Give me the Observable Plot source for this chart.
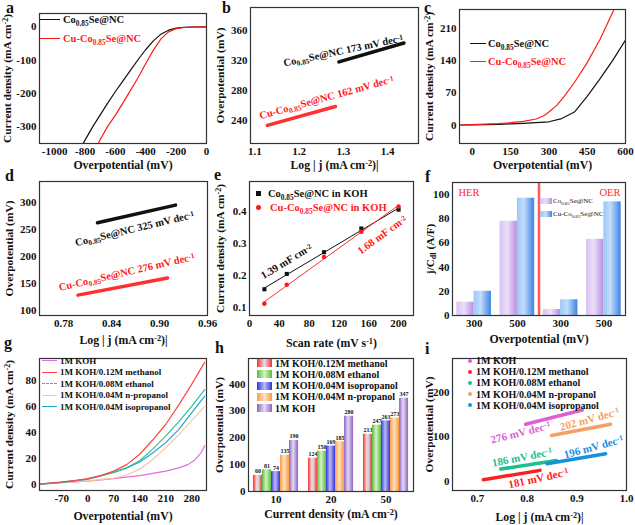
<!DOCTYPE html>
<html><head><meta charset="utf-8">
<script src="https://cdn.jsdelivr.net/npm/d3@7"></script>
<script src="https://cdn.jsdelivr.net/npm/@observablehq/plot@0.6"></script>
<style>
body{margin:0;background:#fff;}
#fig{position:relative;width:635px;height:525px;overflow:hidden;font-family:"Liberation Serif","Times New Roman",serif;color:#111;}
#fig svg{overflow:visible;}
.letter{position:absolute;font-size:16px;font-weight:bold;line-height:1;}
.leg{position:absolute;white-space:nowrap;font-weight:bold;}
.leg .row{display:flex;align-items:center;}
.leg sub,.leg sup{font-size:70%;line-height:0;}
</style></head><body><div id="fig"></div>
<script>
// ---------- data ----------
// a: HER polarization
const aXTicks = [-1000,-800,-600,-400,-200,0];
const aYTicks = [0,-100,-200,-300];
const aCo = [[0,0],[-100,-0.5],[-150,-1.5],[-200,-4],[-250,-10],[-300,-22],[-350,-42],[-400,-68],[-450,-98],[-500,-130],[-550,-162],[-600,-194],[-650,-228],[-700,-264],[-750,-300],[-800,-340],[-815,-352]];
const aCu = [[0,0],[-100,-0.8],[-150,-2],[-200,-5.5],[-250,-15],[-300,-36],[-350,-70],[-400,-110],[-450,-152],[-500,-190],[-550,-228],[-600,-265],[-650,-298],[-700,-338],[-720,-356]];
// b: HER Tafel
const bXTicks = [1.1,1.2,1.3,1.4];
const bYTicks = [240,280,320,360];
const bCo = [[1.29,318],[1.437,343]];
const bCu = [[1.128,234],[1.282,259]];
const bNotes = [
  {x:1.300,y:333,t:"Co_{0.85}Se@NC 173 mV dec^{-1}",c:"#111",r:-12},
  {x:1.262,y:271,t:"Cu-Co_{0.85}Se@NC 162 mV dec^{-1}",c:"#ff1a1a",r:-15.5}
];
// c: OER polarization
const cXTicks = [0,150,300,450,600];
const cYTicks = [0,70,140,210];
const cCo = [[-50,0],[0,0.5],[50,1],[100,1.5],[150,2.5],[200,3.5],[250,5],[300,7],[350,14],[400,28],[450,62],[500,100],[550,140],[600,184]];
const cCu = [[-50,0],[0,1],[50,2],[100,3],[150,5],[200,8],[250,13],[280,20],[300,28],[330,42],[360,62],[400,92],[450,135],[500,185],[555,250]];
// d: OER Tafel
const dXTicks = [0.78,0.84,0.90,0.96];
const dYTicks = [100,150,200,250,300];
const dCo = [[0.8225,263],[0.92,296]];
const dCu = [[0.798,128],[0.91,160]];
const dNotes = [
  {x:0.869,y:252,t:"Co_{0.85}Se@NC 325 mV dec^{-1}",c:"#111",r:-13.5},
  {x:0.859,y:171,t:"Cu-Co_{0.85}Se@NC 276 mV dec^{-1}",c:"#ff1a1a",r:-13}
];
// e: Cdl
const eXTicks = [0,40,80,120,160,200];
const eYTicks = [0.1,0.2,0.3,0.4];
const eScan = [20,50,100,150,200];
const eCo = [0.157,0.205,0.273,0.347,0.406];
const eCu = [0.112,0.171,0.258,0.337,0.416];
const eNotes = [
  {x:49.6,y:0.244,t:"1.39 mF cm^{-2}",c:"#111",r:-31},
  {x:178,y:0.327,t:"1.68 mF cm^{-2}",c:"#ff1a1a",r:-36}
];
// f: j/Cdl
const fGroups = ["HER-300","HER-500","OER-300","OER-500"];
const fYTicks = [0,20,40,60,80,100];
const fCo = [11,78,5,63];
const fCu = [20,97,13,94];
// g: alcohol LSV
const gXTicks = [-70,0,70,140,210,280];
const gYTicks = [0,20,40,60,80];
const gKOH = [[-130,0],[-70,1],[0,2.3],[70,4.2],[140,6.5],[210,10],[245,12.5],[270,15],[290,19],[305,24],[315,29.5]];
const gMethanol = [[-130,0],[-100,0.8],[-70,1.6],[-35,2.6],[0,4.2],[35,6.5],[70,10],[105,15],[140,23],[175,34],[210,46],[245,61],[280,77],[315,94]];
const gEthanol = [[-130,0],[-70,1.3],[0,3.8],[70,9],[105,12.5],[140,18],[175,27],[210,37],[245,48],[280,60],[315,73]];
const gNpropanol = [[-130,0],[-70,1],[0,2.5],[70,4.5],[105,7],[140,11.5],[175,19],[210,28],[245,38],[280,49],[315,60]];
const gIsopropanol = [[-130,0],[-70,1.3],[0,3.8],[70,9],[105,12.5],[140,17],[175,24],[210,32],[245,42],[280,55],[315,68]];
// h: overpotential bars
const hDensity = ["10","20","50"];
const hYTicks = [0,100,200,300,400];
const hMethanol = [60,124,213];
const hEthanol = [81,150,247];
const hIsopropanol = [74,169,263];
const hNpropanol = [135,185,273];
const hKOH = [190,280,347];
// i: alcohol Tafel
const iXTicks = [0.7,0.8,0.9,1.0];
const iYTicks = [0,100,200];
const iKOH = [[0.797,128],[0.911,160]];
const iMethanol = [[0.712,4],[0.826,25]];
const iEthanol = [[0.747,28],[0.859,47]];
const iNpropanol = [[0.849,103],[0.968,128]];
const iIsopropanol = [[0.84,40],[0.958,62]];
const iNotes = [
  {x:0.787,y:109,t:"276 mV dec^{-1}",k:"koh",r:-14},
  {x:0.926,y:139,t:"202 mV dec^{-1}",k:"npr",r:-15},
  {x:0.790,y:54,t:"186 mV dec^{-1}",k:"eth",r:-11},
  {x:0.934,y:77,t:"196 mV dec^{-1}",k:"iso",r:-15},
  {x:0.823,y:7,t:"181 mV dec^{-1}",k:"met",r:-12}
];

// ---------- helpers ----------
const FONT = '"Liberation Serif","Times New Roman",serif';
const fig = document.getElementById("fig");
const NS = "http://www.w3.org/2000/svg";
const RED = "#ff1a1a";
const hy = d => String(d);

function richNode(t){
  const s = t.textContent;
  if (!/[_^]\{/.test(s)) return;
  t.textContent = "";
  const re = /([_^])\{([^}]*)\}/g; let last = 0, m;
  const add = (txt, kind) => {
    const ts = document.createElementNS(NS,"tspan");
    ts.textContent = txt;
    if (kind) { ts.setAttribute("baseline-shift", kind === "_" ? "-25%" : "35%"); ts.style.fontSize = "70%"; }
    t.appendChild(ts);
  };
  while ((m = re.exec(s))) { if (m.index > last) add(s.slice(last, m.index)); add(m[2], m[1]); last = re.lastIndex; }
  if (last < s.length) add(s.slice(last));
}
function rich(svg){
  svg.querySelectorAll("text").forEach(t => {
    const ts = t.querySelectorAll("tspan");
    if (ts.length) ts.forEach(richNode); else richNode(t);
  });
}
function addDefs(svg, grads){
  const defs = document.createElementNS(NS,"defs");
  for (const [id, stops] of Object.entries(grads)) {
    const lg = document.createElementNS(NS,"linearGradient");
    lg.setAttribute("id", id); lg.setAttribute("x1","0"); lg.setAttribute("x2","1"); lg.setAttribute("y1","0"); lg.setAttribute("y2","0");
    stops.forEach(([o,c]) => { const s = document.createElementNS(NS,"stop"); s.setAttribute("offset", o); s.setAttribute("stop-color", c); lg.appendChild(s); });
    defs.appendChild(lg);
  }
  svg.insertBefore(defs, svg.firstChild);
}
function mk(o){
  const p = Plot.plot({
    width:o.w, height:o.h, marginLeft:o.ml, marginRight:o.mr, marginTop:o.mt, marginBottom:o.mb,
    style:{fontFamily:FONT, fontSize:"11px", fontWeight:"bold", background:"transparent", color:"#111", overflow:"visible"},
    x:Object.assign({tickSize:0, tickPadding:4, labelAnchor:"center", labelArrow:"none"}, o.x),
    y:Object.assign({tickSize:0, tickPadding:3, labelAnchor:"center", labelArrow:"none"}, o.y),
    marks:[...o.marks, Plot.frame({stroke:"#333", strokeWidth:1.2})]
  });
  if (o.defs) addDefs(p, o.defs);
  p.querySelectorAll('[aria-label="x-axis label"]').forEach(g => { g.style.fontSize = "11.8px"; });
  p.querySelectorAll('[aria-label="y-axis label"]').forEach(g => { g.style.fontSize = "11.4px"; });
  rich(p);
  p.style.position = "absolute"; p.style.left = o.left + "px"; p.style.top = o.top + "px";
  fig.appendChild(p);
  return p;
}
function notes(arr, size, colorOf){
  return Plot.text(arr, {x:"x", y:"y", text:"t", rotate:d => d.r, fill:colorOf || (d => d.c), fontSize:size, fontWeight:"bold"});
}
function letter(ch, left, top){
  const d = document.createElement("div"); d.className = "letter"; d.textContent = ch;
  d.style.left = left + "px"; d.style.top = top + "px"; fig.appendChild(d);
}
function legend(left, top, rowH, fontSize, rows, weight){
  const div = document.createElement("div"); div.className = "leg";
  div.style.cssText += `left:${left}px;top:${top}px;font-size:${fontSize}px;font-weight:${weight||"bold"};`;
  rows.forEach(r => {
    const row = document.createElement("div"); row.className = "row"; row.style.height = rowH + "px";
    const sw = document.createElement("span");
    if (r.kind === "line") sw.style.cssText = `display:inline-block;width:${r.w}px;height:0;border-top:${r.lw||1.5}px ${r.dash?"dashed":"solid"} ${r.color};margin-right:${r.gap}px;`;
    else if (r.kind === "rect") sw.style.cssText = `display:inline-block;width:${r.w}px;height:${r.h}px;background:${r.color};margin-right:${r.gap}px;`;
    else if (r.kind === "square") sw.style.cssText = `display:inline-block;width:${r.w}px;height:${r.w}px;background:${r.color};margin-left:${r.pad||0}px;margin-right:${r.gap}px;`;
    else if (r.kind === "dot") sw.style.cssText = `display:inline-block;width:${r.w}px;height:${r.w}px;border-radius:50%;background:${r.color};margin-left:${r.pad||0}px;margin-right:${r.gap}px;`;
    const tx = document.createElement("span"); tx.innerHTML = r.label; tx.style.color = r.textColor || "#111";
    row.appendChild(sw); row.appendChild(tx); div.appendChild(row);
  });
  fig.appendChild(div);
}

// ---------- panel a ----------
mk({left:0, top:0, w:212, h:172, ml:39, mr:6, mt:13, mb:29,
  x:{domain:[-1100,0], ticks:aXTicks, tickFormat:hy, label:"Overpotential (mV)", labelOffset:25},
  y:{domain:[-350,40], ticks:aYTicks, tickFormat:hy, label:"Current density (mA cm^{-2})", labelOffset:37},
  marks:[
    Plot.line(aCo, {stroke:"#111", strokeWidth:1.2, clip:true}),
    Plot.line(aCu, {stroke:RED, strokeWidth:1.2, clip:true})
  ]});
legend(40, 9.5, 19, 10.5, [
  {kind:"line", w:20, gap:3, color:"#111", label:"Co<sub>0.85</sub>Se@NC"},
  {kind:"line", w:20, gap:3, color:RED, label:"Cu-Co<sub>0.85</sub>Se@NC", textColor:RED}
]);

// ---------- panel b ----------
mk({left:211, top:0, w:212, h:172, ml:39, mr:5, mt:7, mb:29,
  x:{domain:[1.09,1.47], ticks:bXTicks, tickFormat:".1f", label:"Log | j (mA cm^{-2})|", labelOffset:25},
  y:{domain:[210,390], ticks:bYTicks, label:"Overpotential (mV)", labelOffset:35},
  marks:[
    Plot.line(bCo, {stroke:"#111", strokeWidth:3.5}),
    Plot.line(bCu, {stroke:"#ff3030", strokeWidth:3.5}),
    notes(bNotes, 10.5)
  ]});

// ---------- panel c ----------
mk({left:421, top:0, w:214, h:172, ml:38, mr:10, mt:9, mb:29,
  x:{domain:[-50,600], ticks:cXTicks, label:"Overpotential (mV)", labelOffset:25},
  y:{domain:[-40,250], ticks:cYTicks, label:"Current density (mA cm^{-2})", labelOffset:35},
  marks:[
    Plot.line(cCo, {stroke:"#111", strokeWidth:1.2, clip:true}),
    Plot.line(cCu, {stroke:RED, strokeWidth:1.2, clip:true})
  ]});
legend(470, 34, 18, 10.5, [
  {kind:"line", w:16, gap:2, color:"#111", label:"Co<sub>0.85</sub>Se@NC"},
  {kind:"line", w:16, gap:2, color:RED, label:"Cu-Co<sub>0.85</sub>Se@NC", textColor:RED}
]);

// ---------- panel d ----------
mk({left:0, top:170, w:212, h:180, ml:39, mr:5, mt:11, mb:35,
  x:{domain:[0.75,0.96], ticks:dXTicks, tickFormat:".2f", label:"Log | j (mA cm^{-2})|", labelOffset:28},
  y:{domain:[90,340], ticks:dYTicks, label:"Overpotential (mV)", labelOffset:35},
  marks:[
    Plot.line(dCo, {stroke:"#111", strokeWidth:3.5}),
    Plot.line(dCu, {stroke:"#ff3030", strokeWidth:3.5}),
    notes(dNotes, 10.5)
  ]});

// ---------- panel e ----------
const eRows = eScan.flatMap((s,i) => [{s, v:eCo[i], k:"co"}, {s, v:eCu[i], k:"cu"}]);
mk({left:211, top:170, w:212, h:180, ml:38, mr:10, mt:11, mb:35,
  x:{domain:[0,220], ticks:eXTicks, label:"Scan rate (mV s^{-1})", labelOffset:31},
  y:{domain:[0.075,0.494], ticks:eYTicks, tickFormat:".1f", label:"Current density (mA cm^{-2})", labelOffset:34},
  marks:[
    Plot.linearRegressionY(eRows.filter(d=>d.k==="co"), {x:"s", y:"v", stroke:"#111", strokeWidth:1, ci:0}),
    Plot.linearRegressionY(eRows.filter(d=>d.k==="cu"), {x:"s", y:"v", stroke:"#ff3030", strokeWidth:1, ci:0}),
    Plot.dot(eRows.filter(d=>d.k==="co"), {x:"s", y:"v", symbol:"square", r:2.3, fill:"#111"}),
    Plot.dot(eRows.filter(d=>d.k==="cu"), {x:"s", y:"v", r:2.3, fill:RED}),
    notes(eNotes, 10.5)
  ]});
legend(256, 186, 14, 10.5, [
  {kind:"square", w:5, gap:7, color:"#111", label:"Co<sub>0.85</sub>Se@NC in KOH"},
  {kind:"dot", w:5, gap:9, color:RED, label:"Cu-Co<sub>0.85</sub>Se@NC in KOH", textColor:RED}
]);

// ---------- panel f ----------
const fBand = (214-31-10) / (4 - 0.2 + 0.2);       // band step
const fW = fBand * 0.8 / 2;                        // half bandwidth
const fCoRows = fGroups.map((g,i) => ({g, v:fCo[i]}));
const fCuRows = fGroups.map((g,i) => ({g, v:fCu[i]}));
mk({left:421, top:170, w:214, h:180, ml:31, mr:10, mt:12, mb:35,
  defs:{gradFP:[[0,"#d9c2f2"],[0.45,"#ecdff9"],[1,"#b98fe2"]], gradFB:[[0,"#9cc6f6"],[0.4,"#c4ddfb"],[1,"#3d84e2"]]},
  x:{type:"band", domain:fGroups, paddingInner:0.2, paddingOuter:0.1, round:false, tickFormat:d => d.slice(4), label:"Overpotential (mV)", labelOffset:27},
  y:{domain:[0,110], ticks:fYTicks, label:"j/C_{dl} (A/F)", labelOffset:27},
  marks:[
    Plot.barY(fCoRows, {x:"g", y:"v", fill:"url(#gradFP)", insetLeft:0, insetRight:fW}),
    Plot.barY(fCuRows, {x:"g", y:"v", fill:"url(#gradFB)", insetLeft:fW, insetRight:0}),
    Plot.ruleX(["OER-300"], {x:d=>d, dx:-fBand/2, stroke:"#ff5a5a", strokeWidth:2.5}),
    Plot.text(["HER"], {frameAnchor:"top-left", text:d=>d, dx:6, dy:6, fill:"#ff2a2a", fontSize:10.5, fontWeight:"normal"}),
    Plot.text(["OER"], {frameAnchor:"top-right", text:d=>d, dx:-5, dy:6, fill:"#ff2a2a", fontSize:10.5, fontWeight:"normal"})
  ]});
legend(540, 195, 12.5, 7, [
  {kind:"rect", w:12, h:6, gap:1, color:"linear-gradient(90deg,#d9c2f2,#ecdff9,#b98fe2)", label:"Co<sub>0.85</sub>Se@NC"},
  {kind:"rect", w:12, h:6, gap:1, color:"linear-gradient(90deg,#9cc6f6,#c4ddfb,#3d84e2)", label:"Cu-Co<sub>0.85</sub>Se@NC"}
], "normal");

// ---------- panel g ----------
const GC = {koh:"#e46ae6", met:"#ff4545", eth:"#2fc08e", npr:"#f6c9a2", iso:"#1fa6d6"};
mk({left:0, top:345, w:212, h:180, ml:39, mr:6, mt:13, mb:35,
  x:{domain:[-130,320], ticks:gXTicks, tickFormat:hy, label:"Overpotential (mV)", labelOffset:29},
  y:{domain:[-5,97], ticks:gYTicks, label:"Current density (mA cm^{-2})", labelOffset:35},
  marks:[
    Plot.line(gKOH, {stroke:GC.koh, strokeWidth:1.2}),
    Plot.line(gNpropanol, {stroke:GC.npr, strokeWidth:1.2}),
    Plot.line(gIsopropanol, {stroke:GC.iso, strokeWidth:1.2}),
    Plot.line(gEthanol, {stroke:GC.eth, strokeWidth:1.2}),
    Plot.line(gMethanol, {stroke:GC.met, strokeWidth:1.2})
  ]});
legend(42, 355, 11.5, 9, [
  {kind:"line", w:15, gap:3, color:GC.koh, label:"1M KOH"},
  {kind:"line", w:15, gap:3, color:GC.met, label:"1M KOH/0.12M methanol"},
  {kind:"line", w:15, gap:3, color:GC.eth, dash:true, label:"1M KOH/0.08M ethanol"},
  {kind:"line", w:15, gap:3, color:GC.npr, label:"1M KOH/0.04M n-propanol"},
  {kind:"line", w:15, gap:3, color:GC.iso, label:"1M KOH/0.04M isopropanol"}
]);

// ---------- panel h ----------
const hStep = (212-37-10) / (3 - 0.18 + 0.18);
const hW = hStep * 0.82 / 5;
const hSeries = [
  {vals:hMethanol, grad:"gradHR"}, {vals:hEthanol, grad:"gradHG"}, {vals:hIsopropanol, grad:"gradHB"},
  {vals:hNpropanol, grad:"gradHO"}, {vals:hKOH, grad:"gradHP"}
];
const hMarks = [];
hSeries.forEach((s,k) => {
  const rows = hDensity.map((d,i) => ({d, v:s.vals[i]}));
  hMarks.push(Plot.barY(rows, {x:"d", y:"v", fill:`url(#${s.grad})`, insetLeft:k*hW, insetRight:(4-k)*hW}));
  hMarks.push(Plot.text(rows, {x:"d", y:"v", text:d => String(d.v), dx:(k-2)*hW, dy:-2, lineAnchor:"bottom", fontSize:6, fontWeight:"bold"}));
});
mk({left:211, top:345, w:212, h:180, ml:37, mr:10, mt:13, mb:34,
  defs:{
    gradHR:[[0,"#ff2d2d"],[0.4,"#f2d2d2"],[0.6,"#cfdbe8"],[1,"#ff2d2d"]],
    gradHG:[[0,"#58bd3c"],[0.45,"#d4f2c4"],[1,"#58bd3c"]],
    gradHB:[[0,"#3434dc"],[0.45,"#b9bdf2"],[1,"#3434dc"]],
    gradHO:[[0,"#ff9a3a"],[0.45,"#ffe3c6"],[1,"#ff9a3a"]],
    gradHP:[[0,"#8c63c4"],[0.45,"#e6daf3"],[1,"#8c63c4"]]
  },
  x:{type:"band", domain:hDensity, paddingInner:0.18, paddingOuter:0.09, round:false, label:"Current density (mA cm^{-2})", labelOffset:26},
  y:{domain:[0,495], ticks:hYTicks, label:"Overpotential (mV)", labelOffset:34},
  marks:hMarks});
legend(257, 357.4, 11.3, 10, [
  {kind:"rect", w:15, h:8, gap:3, color:"linear-gradient(90deg,#ff2d2d,#e6dbe3,#ff2d2d)", label:"1M KOH/0.12M methanol"},
  {kind:"rect", w:15, h:8, gap:3, color:"linear-gradient(90deg,#58bd3c,#d4f2c4,#58bd3c)", label:"1M KOH/0.08M ethanol"},
  {kind:"rect", w:15, h:8, gap:3, color:"linear-gradient(90deg,#3434dc,#b9bdf2,#3434dc)", label:"1M KOH/0.04M isopropanol"},
  {kind:"rect", w:15, h:8, gap:3, color:"linear-gradient(90deg,#ff9a3a,#ffe3c6,#ff9a3a)", label:"1M KOH/0.04M n-propanol"},
  {kind:"rect", w:15, h:8, gap:3, color:"linear-gradient(90deg,#8c63c4,#e6daf3,#8c63c4)", label:"1M KOH"}
]);

// ---------- panel i ----------
const IC = {koh:"#e05ed4", met:"#ff2020", eth:"#1fc088", npr:"#f7a062", iso:"#1890e0"};
mk({left:421, top:345, w:214, h:180, ml:31, mr:9, mt:13, mb:35,
  x:{domain:[0.65,1.0], ticks:iXTicks, tickFormat:".1f", label:"Log | j (mA cm^{-2})|", labelOffset:30},
  y:{domain:[-20,275], ticks:iYTicks, label:"Overpotential (mV)", labelOffset:28},
  marks:[
    Plot.line(iKOH, {stroke:IC.koh, strokeWidth:3.5}),
    Plot.line(iMethanol, {stroke:IC.met, strokeWidth:3.5}),
    Plot.line(iEthanol, {stroke:IC.eth, strokeWidth:3.5}),
    Plot.line(iNpropanol, {stroke:IC.npr, strokeWidth:3.5}),
    Plot.line(iIsopropanol, {stroke:IC.iso, strokeWidth:3.5}),
    notes(iNotes, 11, d => IC[d.k])
  ]});
legend(468, 355, 11.2, 10, [
  {kind:"dot", w:4, gap:4, color:IC.koh, label:"1M KOH"},
  {kind:"dot", w:4, gap:4, color:IC.met, label:"1M KOH/0.12M methanol"},
  {kind:"dot", w:4, gap:4, color:IC.eth, label:"1M KOH/0.08M ethanol"},
  {kind:"dot", w:4, gap:4, color:IC.npr, label:"1M KOH/0.04M n-propanol"},
  {kind:"dot", w:4, gap:4, color:IC.iso, label:"1M KOH/0.04M isopropanol"}
]);

// ---------- panel letters ----------
letter("a", 6, 0); letter("b", 222, 0); letter("c", 424, 0);
letter("d", 5, 168); letter("e", 214, 167); letter("f", 425, 169);
letter("g", 4, 335); letter("h", 215, 340); letter("i", 425, 341);
</script></body></html>
